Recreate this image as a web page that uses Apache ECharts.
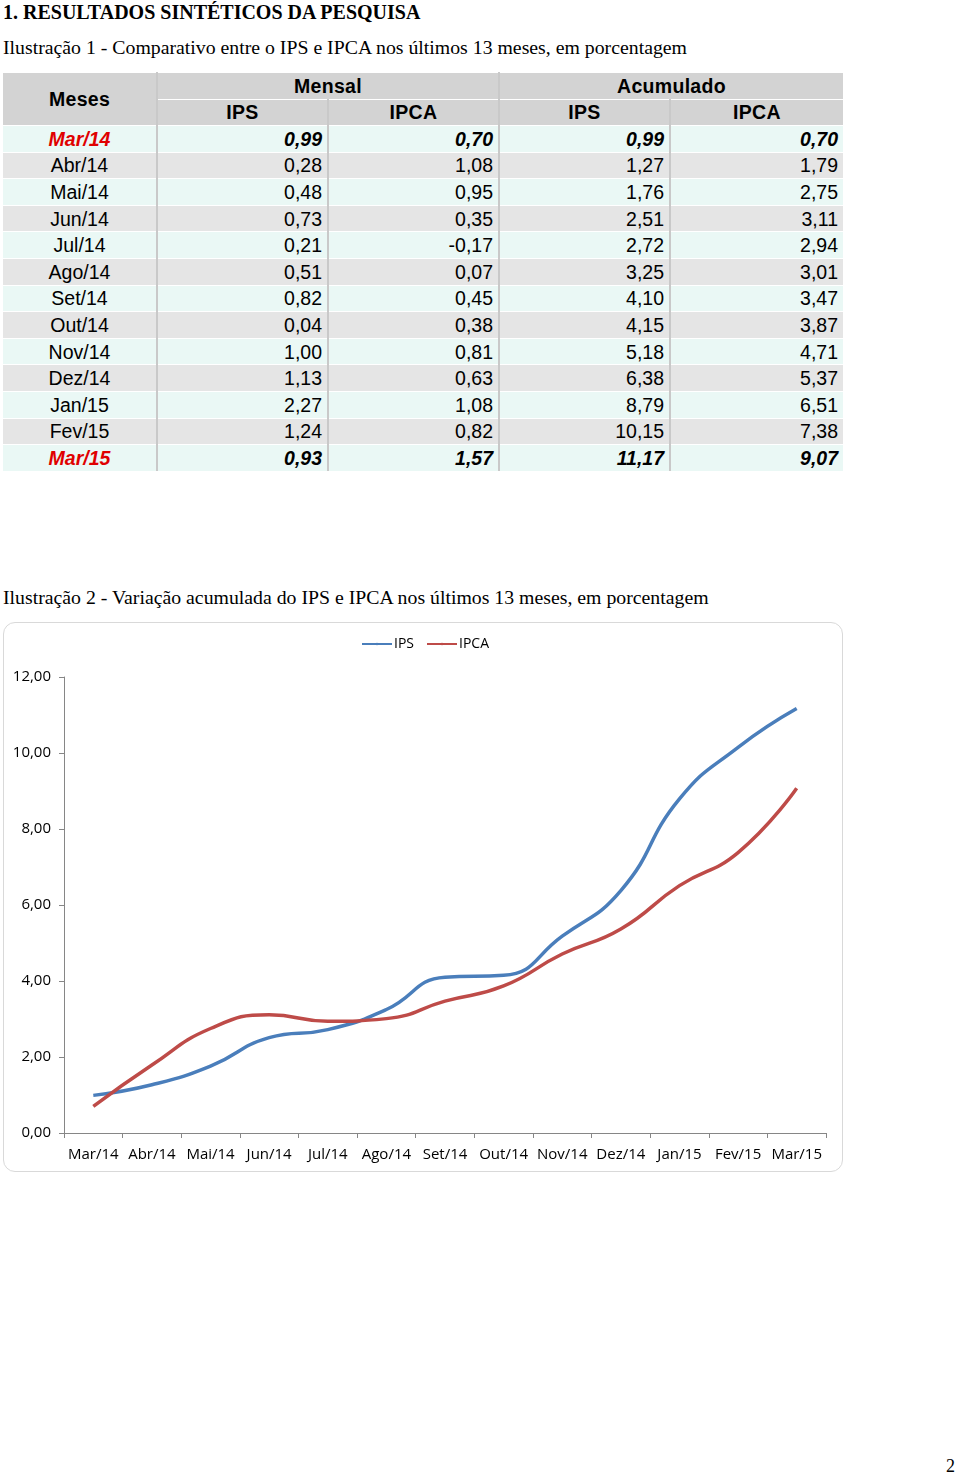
<!DOCTYPE html>
<html>
<head>
<meta charset="utf-8">
<script src="https://cdn.jsdelivr.net/npm/echarts@6/dist/echarts.min.js"></script>
<style>
body{margin:0;width:960px;height:1476px;position:relative;background:#fff;font-family:"Liberation Serif","DejaVu Serif",serif;color:#000}
.h1{position:absolute;left:3px;top:1px;font-size:20px;font-weight:bold}
.cap{position:absolute;left:3px;font-size:19.8px}
#tab{position:absolute;left:3px;top:72px;border-collapse:collapse;font-family:"Liberation Sans",Arial,sans-serif;font-size:19.5px;table-layout:fixed}
#tab td,#tab th{padding:0 5px;box-sizing:border-box;height:26.6px;line-height:20px;border-left:2px solid #c9c9c9;border-top:1px solid #fff}
#tab th{background:#d3d3d3;font-weight:bold;text-align:center;height:26.5px;letter-spacing:0.3px}
#tab td{text-align:right}
#tab td.m{text-align:center}
#tab tr.c td{background:#eaf8f5}
#tab tr.g td{background:#e5e5e5}
#tab tr.b td{font-weight:bold;font-style:italic}
#tab tr.b td.m{color:#e00000}
#chart{position:absolute;left:3px;top:622px;width:840px;height:550px;border:1px solid #d9d9d9;border-radius:12px;box-sizing:border-box}
.pg{position:absolute;left:946px;top:1456px;font-size:18px}
</style>
</head>
<body>
<div class="h1">1. RESULTADOS SINTÉTICOS DA PESQUISA</div>
<div class="cap" style="top:36px">Ilustração 1 - Comparativo entre o IPS e IPCA nos últimos 13 meses, em porcentagem</div>
<table id="tab">
<colgroup><col style="width:154px"><col style="width:171px"><col style="width:171px"><col style="width:171px"><col style="width:173px"></colgroup>
<thead>
<tr><th rowspan="2" style="border-left:none">Meses</th><th colspan="2">Mensal</th><th colspan="2">Acumulado</th></tr>
<tr><th>IPS</th><th>IPCA</th><th>IPS</th><th>IPCA</th></tr>
</thead>
<tbody id="tb"></tbody>
</table>
<div class="cap" style="top:586px">Ilustração 2 - Variação acumulada do IPS e IPCA nos últimos 13 meses, em porcentagem</div>
<div id="chart"></div>
<div class="pg">2</div>
<script>
var meses = ['Mar/14','Abr/14','Mai/14','Jun/14','Jul/14','Ago/14','Set/14','Out/14','Nov/14','Dez/14','Jan/15','Fev/15','Mar/15']
var ipsMensal = [0.99,0.28,0.48,0.73,0.21,0.51,0.82,0.04,1.00,1.13,2.27,1.24,0.93]
var ipcaMensal = [0.70,1.08,0.95,0.35,-0.17,0.07,0.45,0.38,0.81,0.63,1.08,0.82,1.57]
var ipsAcum = [0.99,1.27,1.76,2.51,2.72,3.25,4.10,4.15,5.18,6.38,8.79,10.15,11.17]
var ipcaAcum = [0.70,1.79,2.75,3.11,2.94,3.01,3.47,3.87,4.71,5.37,6.51,7.38,9.07]

function fmt(v){ return v.toFixed(2).replace('.',',') }

//tabela
var html = ''
for(var i=0;i<meses.length;i++){
	var cls = (i%2==0 ? 'c' : 'g') + ((i==0 || i==meses.length-1) ? ' b' : '')
	html += '<tr class="'+cls+'"><td class="m" style="border-left:none">'+meses[i]+'</td><td>'+fmt(ipsMensal[i])+'</td><td>'+fmt(ipcaMensal[i])+'</td><td>'+fmt(ipsAcum[i])+'</td><td>'+fmt(ipcaAcum[i])+'</td></tr>'
}
document.getElementById('tb').innerHTML = html

//grafico
var chart = echarts.init(document.getElementById('chart'))
var axisFont = {fontFamily:'"Open Sans",sans-serif', fontSize:15, color:'#000'}
chart.setOption({
	animation:false,
	legend:{
		top:9, left:352,
		itemWidth:30, itemHeight:3, itemGap:12,
		textStyle:{fontFamily:'"Open Sans",sans-serif', fontSize:14, color:'#000', padding:[0,0,0,-3]},
		data:['IPS','IPCA']
	},
	grid:{left:60, right:16, top:54, bottom:38},
	xAxis:{
		type:'category',
		data:meses,
		boundaryGap:true,
		axisLine:{lineStyle:{color:'#868686'}},
		axisTick:{show:true, interval:0, length:5, lineStyle:{color:'#868686'}},
		axisLabel:Object.assign({interval:0, margin:14}, axisFont)
	},
	yAxis:{
		type:'value', min:0, max:12, interval:2,
		axisLine:{show:true, lineStyle:{color:'#868686'}},
		axisTick:{show:true, length:5, lineStyle:{color:'#868686'}},
		splitLine:{show:false},
		axisLabel:Object.assign({margin:13, formatter:fmt}, axisFont)
	},
	series:[
		{name:'IPS', type:'line', data:ipsAcum, smooth:true, symbol:'none', lineStyle:{width:3.5, color:'#4a7ebb'}, itemStyle:{color:'#4a7ebb'}},
		{name:'IPCA', type:'line', data:ipcaAcum, smooth:true, symbol:'none', lineStyle:{width:3.5, color:'#be4b48'}, itemStyle:{color:'#be4b48'}}
	]
})
</script>
</body>
</html>
